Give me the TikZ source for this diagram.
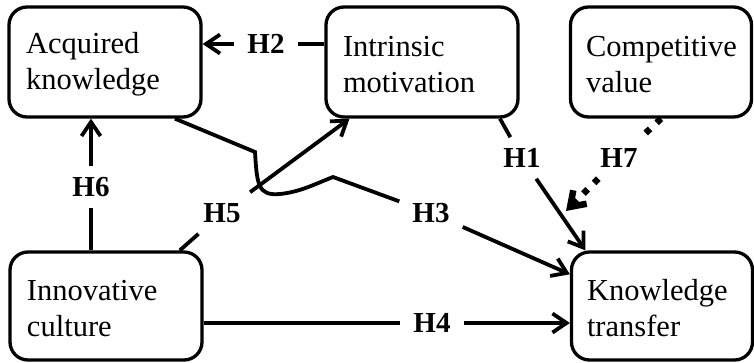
\documentclass[tikz,border=0pt]{standalone}
\usepackage{fontspec}
\setmainfont{Liberation Serif}
\usetikzlibrary{arrows.meta}
% taller first line so the two-line labels sit a little lower in their boxes
\newcommand{\firstline}{\rule{0pt}{25pt}}
\begin{document}
\begin{tikzpicture}[x=1pt,y=-1pt,
  concept/.style={draw, line width=3.3pt, rounded corners=18pt,
    minimum width=192pt, minimum height=110pt, inner xsep=17pt,
    text width=158pt, align=flush left, font=\fontsize{30.5}{36}\selectfont},
  narrow/.style={minimum width=181pt, text width=150pt, inner xsep=15.5pt},
  hyp/.style={font=\fontsize{29}{32}\selectfont\bfseries, inner xsep=13pt, inner ysep=11pt},
  link/.style={line width=3.8pt},
  dots/.style={line width=6.5pt, dash pattern=on 6pt off 9pt},
  tip/.style={-{Straight Barb[length=14pt,width=19pt]}}
]
\useasboundingbox (0,0) rectangle (754,362);

% constructs
\node[concept] (acq) at (105,62) {\firstline Acquired\\knowledge};
\node[concept] (intr) at (422,62) {\firstline Intrinsic\\motivation};
\node[concept, narrow] (comp) at (661,62) {\firstline Competitive\\value};
\node[concept, minimum height=108pt] (innov) at (106,306) {\firstline Innovative\\culture};
\node[concept, narrow, minimum height=108pt] (know) at (662,306) {\firstline Knowledge\\transfer};

% hypothesis labels
\node[hyp] (h2) at (266,44) {H2};
\node[hyp] (h6) at (91,187) {H6};
\node[hyp] (h5) at (222,213) {H5};
\node[hyp] (h3) at (431,213) {H3};
\node[hyp] (h1) at (522,158) {H1};
\node[hyp] (h7) at (619,158) {H7};
\node[hyp] (h4) at (432,323) {H4};
\coordinate (h7tip) at (566,211);

% H2
\draw[link] (h2 -| intr.west) -- (h2);
\draw[link,tip] (h2) -- (h2 -| acq.east);
% H6
\draw[link] (h6 |- innov.north) -- (h6);
\draw[link,tip] (h6) -- (h6 |- acq.south);
% H5
\draw[link] (innov.37) -- (h5);
\draw[link,tip] (h5) -- (intr.-142);
% H3 (with a hop over H5)
\draw[link] (acq.-39) -- (255,152)
  .. controls (257,185) and (258,196) .. (280,194)
  .. controls (300,192) and (315,184) .. (333,177) -- (h3);
\draw[link,tip] (h3) -- (know.161);
% H1
\draw[link] (intr.-36) -- (h1);
\draw[link,tip] (h1) -- (know.144);
% H7
\draw[dots] (comp.south) -- (h7);
\draw[dots,tip] (h7) -- (h7tip);
% H4
\draw[link] (h4 -| innov.east) -- (h4);
\draw[link,tip] (h4) -- (h4 -| know.west);
\end{tikzpicture}
\end{document}
